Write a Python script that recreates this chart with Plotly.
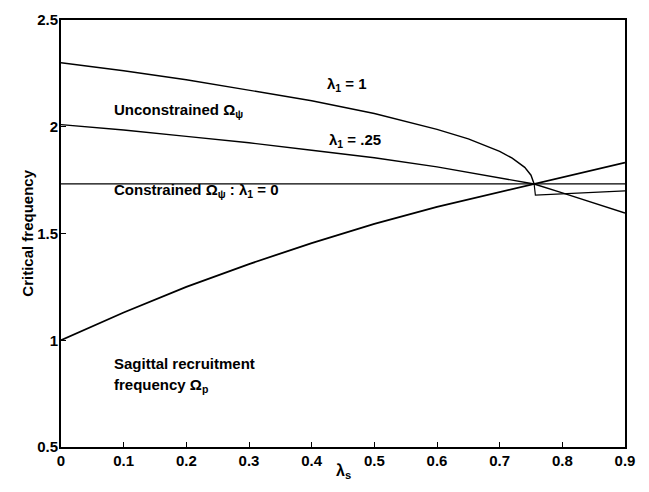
import plotly.graph_objects as go

# Critical frequency versus sagittal stiffness ratio lambda_s
lam_s = [0.0, 0.1, 0.2, 0.3, 0.4, 0.5, 0.6, 0.65, 0.7, 0.72, 0.74, 0.75, 0.755]
omega_unc_1 = [2.30, 2.262, 2.22, 2.17, 2.122, 2.062, 1.988, 1.943, 1.885, 1.853, 1.81, 1.773, 1.732]

# branch of the lambda_1 = 1 curve beyond the coalescence point
lam_s_branch = [0.755, 0.757, 0.9]
omega_branch = [1.732, 1.68, 1.70]

lam_s_q = [0.0, 0.1, 0.2, 0.3, 0.4, 0.5, 0.6, 0.7, 0.755, 0.8, 0.9]
omega_unc_q = [2.01, 1.985, 1.955, 1.925, 1.89, 1.855, 1.812, 1.762, 1.732, 1.69, 1.596]

lam_s_c = [0.0, 0.9]
omega_con = [1.732, 1.732]

lam_s_p = [0.0, 0.1, 0.2, 0.3, 0.4, 0.5, 0.6, 0.7, 0.8, 0.9]
omega_p = [1.0, 1.13, 1.25, 1.357, 1.455, 1.545, 1.625, 1.695, 1.765, 1.832]

x_ticks = [0, 0.1, 0.2, 0.3, 0.4, 0.5, 0.6, 0.7, 0.8, 0.9]
x_tick_text = ["0", "0.1", "0.2", "0.3", "0.4", "0.5", "0.6", "0.7", "0.8", "0.9"]
y_ticks = [0.5, 1, 1.5, 2, 2.5]
y_tick_text = ["0.5", "1", "1.5", "2", "2.5"]

FONT = "Liberation Sans, Arial, Helvetica, sans-serif"

fig = go.Figure()
for xs, ys, w in [
    (lam_s, omega_unc_1, 1.4),
    (lam_s_branch, omega_branch, 1.2),
    (lam_s_q, omega_unc_q, 1.4),
    (lam_s_c, omega_con, 1.2),
    (lam_s_p, omega_p, 1.8),
]:
    fig.add_trace(go.Scatter(x=xs, y=ys, mode="lines",
                             line=dict(color="black", width=w),
                             showlegend=False, hoverinfo="skip"))

ann_font = dict(family=FONT, size=15, color="black", weight="bold")
annotations = [
    dict(x=0.457, y=2.20, text="λ<sub>1</sub> = 1", xanchor="center", yanchor="middle"),
    dict(x=0.469, y=1.935, text="λ<sub>1</sub> = .25", xanchor="center", yanchor="middle"),
    dict(x=0.082, y=2.075, text="Unconstrained Ω<sub>ψ</sub>", xanchor="left", yanchor="middle"),
    dict(x=0.082, y=1.70, text="Constrained Ω<sub>ψ</sub> : λ<sub>1</sub> = 0", xanchor="left", yanchor="middle"),
    dict(x=0.082, y=0.89, text="Sagittal recruitment", xanchor="left", yanchor="middle"),
    dict(x=0.082, y=0.79, text="frequency Ω<sub>p</sub>", xanchor="left", yanchor="middle"),
]
for a in annotations:
    fig.add_annotation(xref="x", yref="y", showarrow=False, font=ann_font, **a)

# axis titles placed as paper-referenced text
fig.add_annotation(xref="paper", yref="paper", x=0.5, y=-0.057, yanchor="middle",
                   text="λ<sub>s</sub>", showarrow=False,
                   font=dict(family=FONT, size=16, color="black", weight="bold"))
fig.add_annotation(xref="paper", yref="paper", x=-0.06, y=0.5, textangle=-90,
                   xanchor="center", yanchor="middle",
                   text="Critical frequency", showarrow=False,
                   font=dict(family=FONT, size=15, color="black", weight="bold"))

axis_common = dict(
    showline=True, linecolor="black", linewidth=2, mirror=True,
    ticks="inside", ticklen=5, tickwidth=1.2, tickcolor="black",
    showgrid=False, zeroline=False,
    tickfont=dict(family=FONT, size=15, color="black", weight="bold"),
)

fig.update_layout(
    width=649, height=492,
    margin=dict(l=61, r=24, t=11, b=45),
    paper_bgcolor="white", plot_bgcolor="white",
    xaxis=dict(range=[0, 0.9], tickvals=x_ticks, ticktext=x_tick_text,
               ticklabelstandoff=-1, **axis_common),
    yaxis=dict(range=[0.5, 2.5], tickvals=y_ticks, ticktext=y_tick_text,
               ticklabelstandoff=-2, **axis_common),
)

fig.write_html("out.html")
